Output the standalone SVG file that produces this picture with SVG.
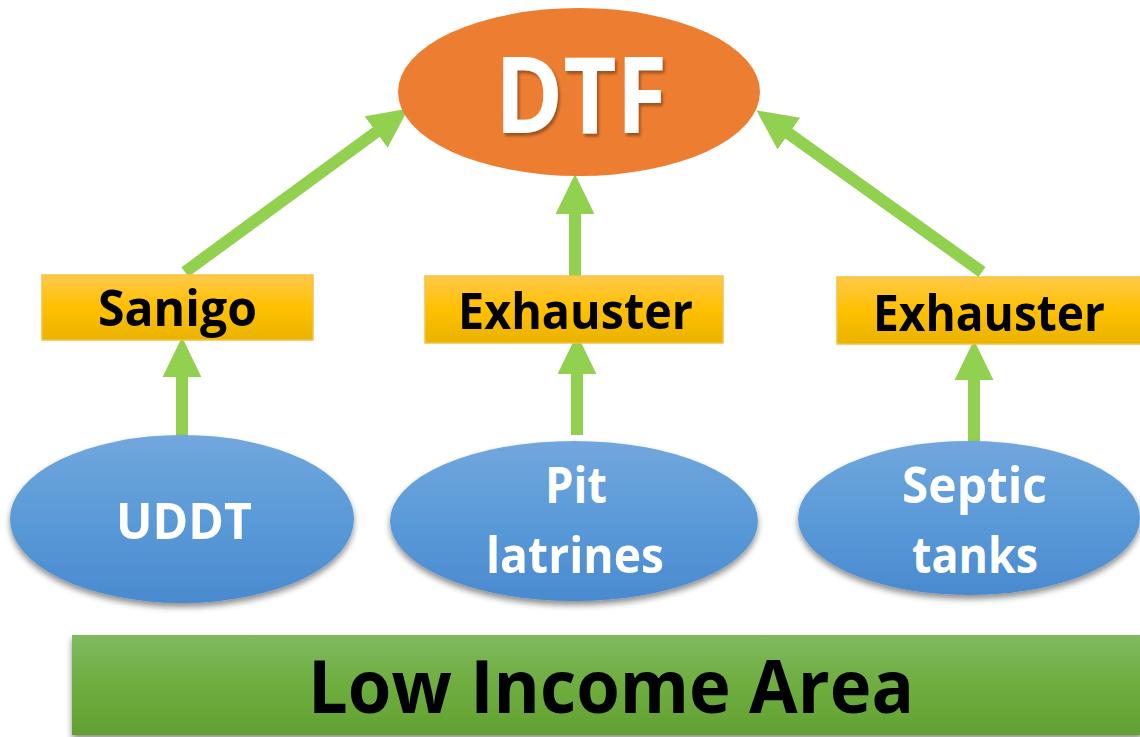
<svg xmlns="http://www.w3.org/2000/svg" width="1140" height="737" viewBox="0 0 1140 737">
  <defs>
    <style>
      .lbl { font-family: "Open Sans", "Liberation Sans", sans-serif; font-weight: 700; text-anchor: start; }
      .white { fill: #ffffff; }
      .black { fill: #000000; }
      .conn { stroke: #92D050; stroke-width: 12; fill: none; marker-end: url(#head); }
      .box { fill: url(#gold); stroke: #F5C242; stroke-width: 1.5; }
      .src { fill: url(#blue); filter: url(#shadow); }
    </style>
    <linearGradient id="gold" x1="0" y1="0" x2="0" y2="1">
      <stop offset="0" stop-color="#FFC94A"/>
      <stop offset="0.5" stop-color="#FFC000"/>
      <stop offset="1" stop-color="#E9B300"/>
    </linearGradient>
    <linearGradient id="blue" x1="0" y1="0" x2="0" y2="1">
      <stop offset="0" stop-color="#72A7DD"/>
      <stop offset="0.5" stop-color="#5A9AD8"/>
      <stop offset="1" stop-color="#4A8ACF"/>
    </linearGradient>
    <linearGradient id="green" x1="0" y1="0" x2="0" y2="1">
      <stop offset="0" stop-color="#80BA60"/>
      <stop offset="0.5" stop-color="#6EAD3F"/>
      <stop offset="1" stop-color="#62A132"/>
    </linearGradient>
    <filter id="shadow" x="-10%" y="-10%" width="120%" height="130%">
      <feGaussianBlur in="SourceAlpha" stdDeviation="3"/>
      <feOffset dx="0" dy="4" result="b"/>
      <feComponentTransfer><feFuncA type="linear" slope="0.45"/></feComponentTransfer>
      <feMerge><feMergeNode/><feMergeNode in="SourceGraphic"/></feMerge>
    </filter>
    <filter id="tshadow" x="-10%" y="-10%" width="120%" height="130%">
      <feGaussianBlur in="SourceAlpha" stdDeviation="1.5"/>
      <feOffset dx="2" dy="3"/>
      <feComponentTransfer><feFuncA type="linear" slope="0.35"/></feComponentTransfer>
      <feMerge><feMergeNode/><feMergeNode in="SourceGraphic"/></feMerge>
    </filter>
    <marker id="head" markerUnits="userSpaceOnUse" markerWidth="40" markerHeight="40" refX="1" refY="18" orient="auto" viewBox="0 0 37 36">
      <path d="M0,0 L37,18 L0,36 z" fill="#92D050"/>
    </marker>
  </defs>

  <!-- connectors -->
  <g id="connectors">
    <line class="conn" x1="185" y1="272" x2="377" y2="131.5"/>
    <line class="conn" x1="575" y1="276" x2="575" y2="213"/>
    <line class="conn" x1="982" y1="272" x2="788" y2="133"/>
    <line class="conn" x1="182" y1="438" x2="182" y2="376"/>
    <line class="conn" x1="577" y1="435" x2="577" y2="373"/>
    <line class="conn" x1="974" y1="442" x2="974" y2="379"/>
  </g>

  <!-- treatment plant -->
  <g id="dtf">
    <ellipse cx="579" cy="92" rx="181" ry="84" fill="#ED7D31"/>
    <text class="lbl white" x="495" y="133" font-size="106" textLength="172" lengthAdjust="spacingAndGlyphs" filter="url(#tshadow)">DTF</text>
  </g>

  <!-- transport -->
  <g id="sanigo">
    <rect class="box" x="42" y="275" width="271" height="65"/>
    <text class="lbl black" x="98" y="326" font-size="50" textLength="159" lengthAdjust="spacingAndGlyphs">Sanigo</text>
  </g>
  <g id="exhauster-mid">
    <rect class="box" x="425" y="276" width="298" height="67"/>
    <text class="lbl black" x="458" y="329" font-size="50" textLength="235" lengthAdjust="spacingAndGlyphs">Exhauster</text>
  </g>
  <g id="exhauster-right">
    <rect class="box" x="837" y="277" width="304" height="67"/>
    <text class="lbl black" x="873" y="331" font-size="50" textLength="232" lengthAdjust="spacingAndGlyphs">Exhauster</text>
  </g>

  <!-- sanitation sources -->
  <g id="uddt">
    <ellipse class="src" cx="182" cy="519" rx="172" ry="84"/>
    <text class="lbl white" x="116" y="539" font-size="50" textLength="136" lengthAdjust="spacingAndGlyphs">UDDT</text>
  </g>
  <g id="pit-latrines">
    <ellipse class="src" cx="574" cy="521" rx="184" ry="80"/>
    <text class="lbl white" x="545" y="503" font-size="50" textLength="62" lengthAdjust="spacingAndGlyphs">Pit</text>
    <text class="lbl white" x="486" y="573" font-size="50" textLength="178" lengthAdjust="spacingAndGlyphs">latrines</text>
  </g>
  <g id="septic-tanks">
    <ellipse class="src" cx="969" cy="518" rx="171" ry="77"/>
    <text class="lbl white" x="902" y="503" font-size="50" textLength="145" lengthAdjust="spacingAndGlyphs">Septic</text>
    <text class="lbl white" x="912" y="573" font-size="50" textLength="126" lengthAdjust="spacingAndGlyphs">tanks</text>
  </g>

  <!-- area banner -->
  <g id="low-income-area">
    <rect x="72" y="635" width="1070" height="100" fill="url(#green)" filter="url(#shadow)"/>
    <text class="lbl black" x="308" y="713" font-size="74" textLength="606" lengthAdjust="spacingAndGlyphs">Low Income Area</text>
  </g>
</svg>
